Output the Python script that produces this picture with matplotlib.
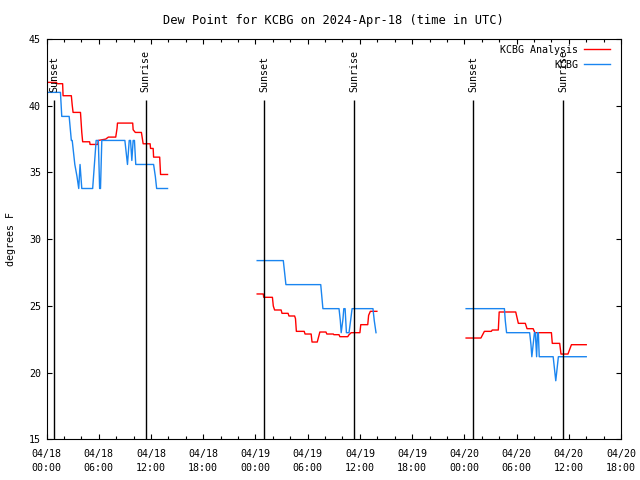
import matplotlib
matplotlib.use("Agg")
import matplotlib.pyplot as plt

# hours since 2024-04-18 00:00 UTC
# KCBG observations (blue)
obs_hours = [0.2, 1.6, 1.75, 2.6, 2.85, 2.95, 3.1, 3.25, 3.5, 3.7, 3.85, 4.05, 4.6, 5.3, 5.5,
             5.7, 5.95, 6.1, 6.2, 6.35, 9.0, 9.15, 9.3, 9.5, 9.65, 9.8, 9.95, 10.1, 10.25, 12.3,
             12.5, 12.65, 13.9, None,
             24.2, 27.2, 27.5, 31.5, 31.75, 33.6, 33.75, 33.85, 34.05, 34.15, 34.3, 34.45, 34.75,
             34.95, 35.1, 37.5, 37.65, 37.85, None,
             48.2, 52.6, 52.7, 52.85, 55.5, 55.65, 55.75, 55.9, 56.05, 56.15, 56.3, 56.4, 56.5,
             56.6, 58.2, 58.35, 58.5, 58.65, 58.8, 62.0]
obs_values = [41.0, 41.0, 39.2, 39.2, 37.4, 37.4, 36.5, 35.6, 34.7, 33.8, 35.6, 33.8, 33.8, 33.8, 35.6,
              37.4, 37.4, 33.8, 33.8, 37.4, 37.4, 36.5, 35.6, 37.4, 37.4, 35.9, 37.4, 37.4, 35.6, 35.6,
              34.7, 33.8, 33.8, None,
              28.4, 28.4, 26.6, 26.6, 24.8, 24.8, 23.9, 23.0, 24.0, 24.8, 24.8, 23.0, 23.0,
              24.0, 24.8, 24.8, 23.9, 23.0, None,
              24.8, 24.8, 23.9, 23.0, 23.0, 22.1, 21.2, 22.1, 23.0, 23.0, 21.2, 23.0, 23.0,
              21.2, 21.2, 20.3, 19.4, 20.3, 21.2, 21.2]

# KCBG analysis (red)
ana_hours = [0.2, 1.15, 1.2, 1.85, 1.9, 2.85, 2.95, 3.05, 3.9, 4.05, 4.15, 4.95, 5.0, 5.9, 5.95,
             6.8, 7.1, 7.95, 8.1, 8.15, 9.9, 9.95, 10.2, 10.9, 11.1, 11.9, 11.95, 12.25, 12.3,
             13.0, 13.1, 13.9, None,
             24.2, 24.9, 24.95, 25.95, 26.05, 26.2, 26.95, 27.05, 27.75, 27.85, 28.5, 28.6,
             28.7, 29.6, 29.7, 30.4, 30.5, 31.1, 31.4, 32.1, 32.2, 32.95, 33.0, 33.6, 33.7,
             34.6, 34.75, 35.0, 36.0, 36.1, 36.9, 37.0, 37.2, 37.95, None,
             48.2, 49.9, 50.3, 51.1, 51.2, 51.9, 52.0, 53.9, 54.2, 55.0, 55.2, 55.9, 56.1,
             58.0, 58.1, 58.95, 59.1, 59.9, 60.3, 62.0]
ana_values = [41.75, 41.75, 41.65, 41.65, 40.75, 40.75, 40.05, 39.5, 39.5, 38.0, 37.3, 37.3, 37.1,
              37.1, 37.4, 37.5, 37.65, 37.65, 38.3, 38.7, 38.7, 38.2, 38.0, 38.0, 37.15, 37.15,
              36.8, 36.8, 36.15, 36.15, 34.85, 34.85, None,
              25.9, 25.9, 25.65, 25.65, 25.0, 24.7, 24.7, 24.45, 24.45, 24.25, 24.25, 24.05,
              23.1, 23.1, 22.9, 22.9, 22.3, 22.3, 23.05, 23.05, 22.9, 22.9, 22.85, 22.85, 22.7,
              22.7, 22.85, 23.0, 23.0, 23.6, 23.6, 24.3, 24.6, 24.6, None,
              22.6, 22.6, 23.1, 23.1, 23.2, 23.2, 24.55, 24.55, 23.7, 23.7, 23.3, 23.3, 23.0,
              23.0, 22.2, 22.2, 21.4, 21.4, 22.1, 22.1]

sunset_hours = [0.9, 25.0, 49.0]
sunrise_hours = [11.4, 35.35, 59.35]

xtick_hours = list(range(0, 67, 6))
xtick_labels = ["04/18\n00:00", "04/18\n06:00", "04/18\n12:00", "04/18\n18:00",
                "04/19\n00:00", "04/19\n06:00", "04/19\n12:00", "04/19\n18:00",
                "04/20\n00:00", "04/20\n06:00", "04/20\n12:00", "04/20\n18:00"]

plt.rcParams["font.family"] = "DejaVu Sans Mono"
plt.rcParams["font.size"] = 7.2

fig = plt.figure(figsize=(6.4, 4.8), dpi=100)
ax = fig.add_axes([0.0727, 0.0844, 0.8977, 0.8344])

ax.plot(ana_hours, ana_values, color="#ff0000", lw=1.0, label="KCBG Analysis")
ax.plot(obs_hours, obs_values, color="#1a85f0", lw=1.0, label="KCBG")

ax.vlines(sunset_hours + sunrise_hours, 15, 40.45, color="black", lw=1.0)
for h in sunset_hours:
    ax.text(h, 41.05, "Sunset", rotation=90, ha="center", va="bottom")
for h in sunrise_hours:
    ax.text(h, 41.05, "Sunrise", rotation=90, ha="center", va="bottom")

ax.set_xlim(0, 66)
ax.set_ylim(15, 45)
ax.set_xticks(xtick_hours, xtick_labels)
ax.set_xticks(range(0, 67, 2), minor=True)
for t in ax.get_xticklabels():
    t.set_linespacing(1.45)
ax.set_yticks(range(15, 46, 5))
ax.tick_params(which="both", direction="in", top=True, right=True, width=0.8)
ax.tick_params(which="major", length=3.5)
ax.tick_params(which="minor", length=2)
ax.tick_params(axis="x", pad=7)
ax.tick_params(axis="y", pad=4)
for s in ax.spines.values():
    s.set_linewidth(0.8)

ax.set_title("Dew Point for KCBG on 2024-Apr-18 (time in UTC)", pad=11)
ax.set_ylabel("degrees F")
ax.yaxis.set_label_coords(-0.054, 0.5)

ax.legend(loc="upper right", bbox_to_anchor=(0.985, 0.99), frameon=False, markerfirst=False,
          handlelength=2.6, handletextpad=0.6, labelspacing=0.5, borderaxespad=0.0,
          borderpad=0.2)

fig.savefig("out.png", dpi=100)
